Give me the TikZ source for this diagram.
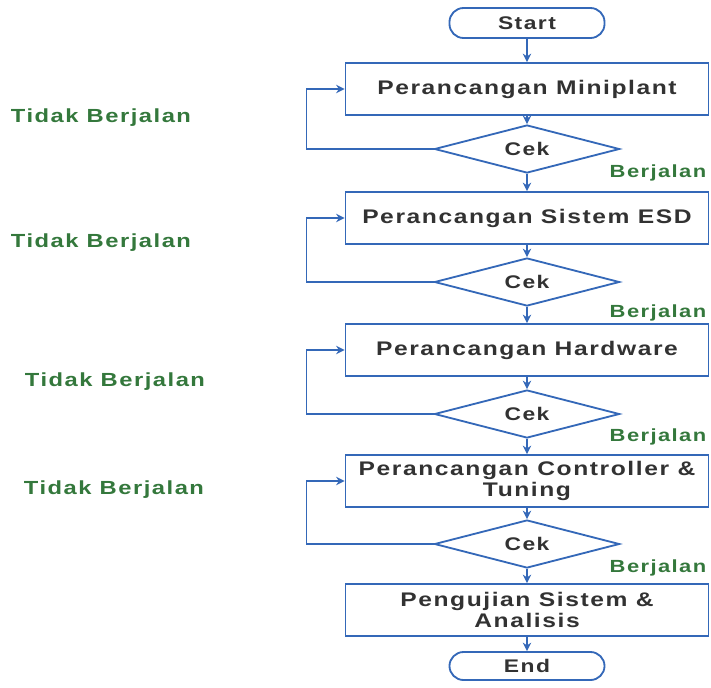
\documentclass[tikz,border=0pt]{standalone}
\usepackage{fontspec}
\setmainfont{Liberation Sans}[FakeStretch=1.25, LetterSpace=8]
\usepackage{xcolor}
\usetikzlibrary{arrows.meta, positioning, shapes.geometric}
\definecolor{flowblue}{RGB}{52,104,184}
\definecolor{okgreen}{RGB}{52,120,60}
\definecolor{darktext}{RGB}{50,50,50}

\begin{document}
\begin{tikzpicture}[
  x=0.025cm, y=-0.025cm,
  proc/.style    = {draw=flowblue, line width=1.3pt, minimum width=9.075cm,
                    minimum height=1.3cm, align=center, font=\bfseries\fontsize{14}{15.5}\selectfont,
                    text=darktext},
  term/.style    = {draw=flowblue, line width=1.3pt, rounded corners=10pt,
                    minimum width=3.875cm, minimum height=0.75cm,
                    font=\bfseries\fontsize{13}{15}\selectfont, text=darktext},
  check/.style   = {draw=flowblue, line width=1.3pt, diamond, aspect=3.8,
                    minimum width=4.625cm, minimum height=1.2cm, inner sep=0pt,
                    font=\bfseries\fontsize{13}{15}\selectfont, text=darktext},
  nogo/.style    = {font=\bfseries\fontsize{13.5}{15}\selectfont, text=okgreen},
  go/.style      = {font=\bfseries\fontsize{12.5}{14}\selectfont, text=okgreen},
  arr/.style     = {-{Stealth[length=6pt, width=6pt]}, draw=flowblue, line width=1.1pt},
]
  \useasboundingbox (0,0) rectangle (711,687);

  \node[term]  (start) at (527,23)  {Start};
  \node[proc]  (mini)  at (527,89)  {Perancangan Miniplant};
  \node[check] (cek1)  at (527,149) {Cek};
  \node[proc]  (esd)   at (527,218) {Perancangan Sistem ESD};
  \node[check] (cek2)  at (527,282) {Cek};
  \node[proc]  (hw)    at (527,350) {Perancangan Hardware};
  \node[check] (cek3)  at (527,414) {Cek};
  \node[proc]  (ctrl)  at (527,481) {Perancangan Controller \&\\ Tuning};
  \node[check] (cek4)  at (527,544) {Cek};
  \node[proc]  (test)  at (527,610) {Pengujian Sistem \&\\ Analisis};
  \node[term, minimum height=0.7cm] (end) at (527,666) {End};

  % main flow
  \draw[arr] (start) -- (mini);
  \draw[arr] (mini)  -- (cek1);
  \draw[arr] (cek1)  -- (esd);
  \draw[arr] (esd)   -- (cek2);
  \draw[arr] (cek2)  -- (hw);
  \draw[arr] (hw)    -- (cek3);
  \draw[arr] (cek3)  -- (ctrl);
  \draw[arr] (ctrl)  -- (cek4);
  \draw[arr] (cek4)  -- (test);
  \draw[arr] (test)  -- (end);

  % loops back
  \draw[arr] (cek1.west) -- ++(-127,0) |- (mini.west);
  \draw[arr] (cek2.west) -- ++(-127,0) |- (esd.west);
  \draw[arr] (cek3.west) -- ++(-127,0) |- (hw.west);
  \draw[arr] (cek4.west) -- ++(-127,0) |- (ctrl.west);

  \node[nogo] (tb1) at (101,118) {Tidak Berjalan};
  \node[nogo] (tb2) at (101,243) {Tidak Berjalan};
  \node[nogo] (tb3) at (115,382) {Tidak Berjalan};
  \node[nogo] (tb4) at (114,490) {Tidak Berjalan};

  \node[go] (b1) at (658,173) {Berjalan};
  \node[go] (b2) at (658,313) {Berjalan};
  \node[go] (b3) at (658,437) {Berjalan};
  \node[go] (b4) at (658,568) {Berjalan};
\end{tikzpicture}
\end{document}
